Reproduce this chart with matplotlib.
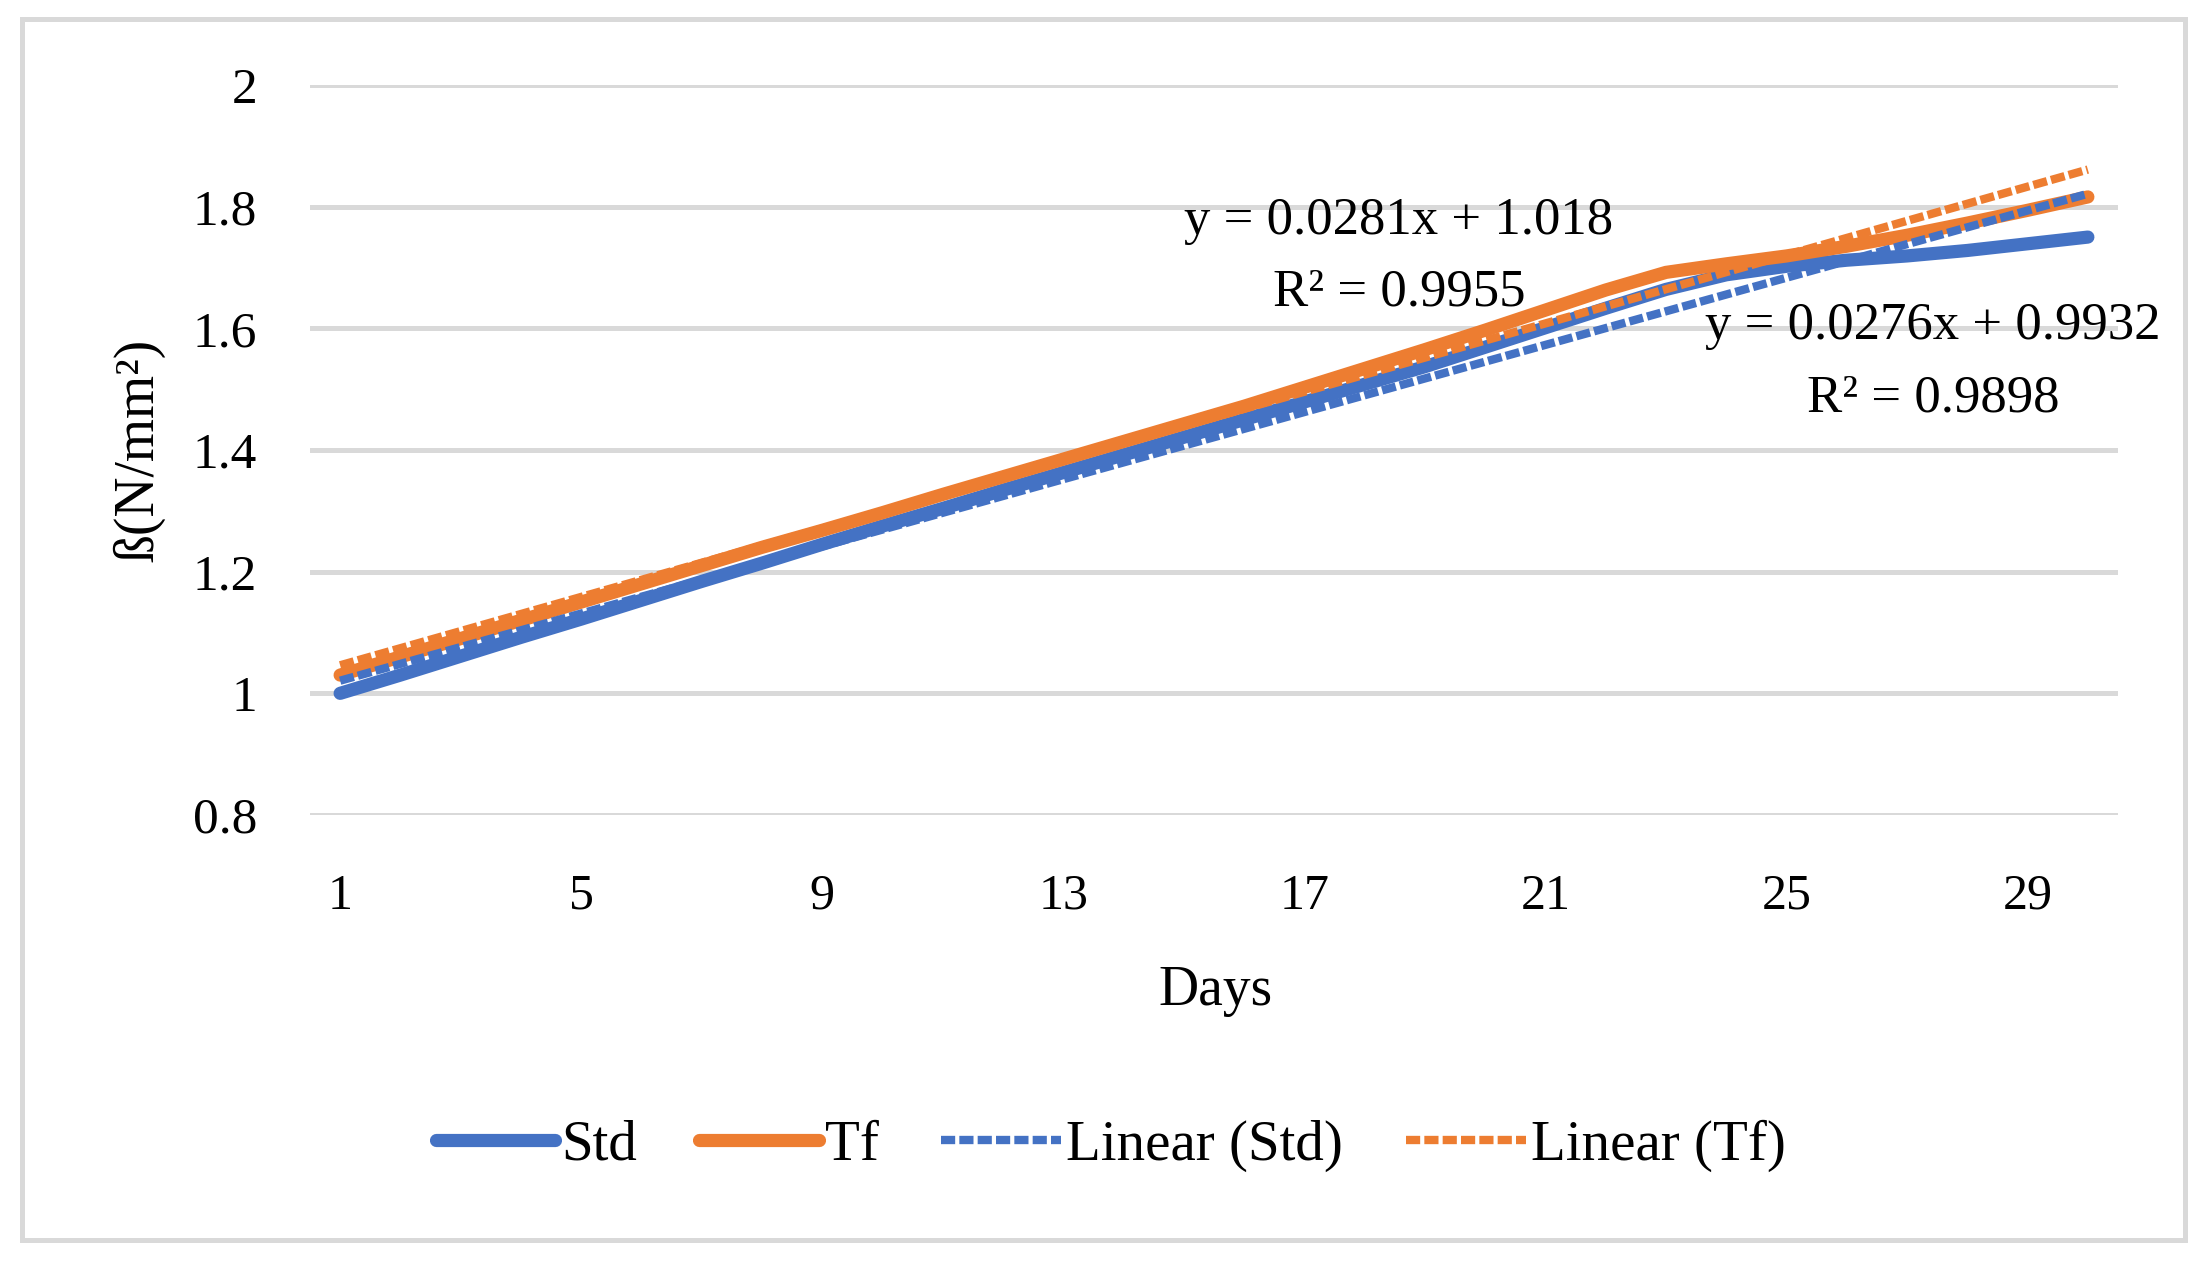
import numpy as np
import matplotlib
matplotlib.use("Agg")
import matplotlib.pyplot as plt
from matplotlib.patches import Rectangle

plt.rcParams['font.family'] = ['Liberation Serif', 'DejaVu Serif']

days = np.arange(1, 31)
std_vals = [1.000, 1.030, 1.061, 1.092, 1.122, 1.153, 1.184, 1.214, 1.245, 1.275,
            1.304, 1.334, 1.363, 1.392, 1.421, 1.450, 1.479, 1.508, 1.537, 1.569,
            1.601, 1.633, 1.664, 1.688, 1.702, 1.712, 1.719, 1.728, 1.739, 1.750]
tf_vals = [1.030, 1.060, 1.090, 1.120, 1.150, 1.180, 1.210, 1.240, 1.268, 1.297,
           1.327, 1.356, 1.385, 1.414, 1.443, 1.472, 1.503, 1.534, 1.565, 1.597,
           1.630, 1.663, 1.692, 1.706, 1.719, 1.735, 1.753, 1.773, 1.794, 1.816]

# trendline coefficients as printed on the chart
std_fit = (0.0276, 0.9932, 0.9898)
tf_fit = (0.0281, 1.018, 0.9955)

xticks = [1, 5, 9, 13, 17, 21, 25, 29]
yticks = [0.8, 1, 1.2, 1.4, 1.6, 1.8, 2]

blue = '#4472C4'
orange = '#ED7D31'
grid = '#D9D9D9'

fig = plt.figure(figsize=(22.04, 12.64), dpi=100)
ax = fig.add_axes([310 / 2204, 1 - 815 / 1264, 1808 / 2204, 730 / 1264])

ax.plot(days, std_vals, color=blue, lw=9.5, solid_capstyle='round',
        solid_joinstyle='round', label='Std', zorder=3)
ax.plot(days, tf_vals, color=orange, lw=9.5, solid_capstyle='round',
        solid_joinstyle='round', label='Tf', zorder=3)
ax.plot(days, std_fit[0] * days + std_fit[1], color=blue, lw=6,
        dashes=(1.7, 0.5), label='Linear (Std)', zorder=4)
ax.plot(days, tf_fit[0] * days + tf_fit[1], color=orange, lw=6,
        dashes=(1.7, 0.5), label='Linear (Tf)', zorder=4)

ax.set_xlim(0.5, 30.5)
ax.set_ylim(0.8, 2.0)
ax.set_xticks(xticks)
ax.set_xticklabels([str(t) for t in xticks])
ax.set_yticks(yticks)
ax.set_yticklabels(['0.8', '1', '1.2', '1.4', '1.6', '1.8', '2'])
ax.tick_params(axis='x', length=0, pad=42, labelsize=36)
ax.tick_params(axis='y', length=0, pad=38, labelsize=37)
ax.grid(axis='y', color=grid, lw=3.6, zorder=0)
ax.set_axisbelow(True)
for s in ax.spines.values():
    s.set_visible(False)

ax.set_xlabel('Days', fontsize=40)
ax.xaxis.set_label_coords(0.501, -0.205)
ax.set_ylabel('ß(N/mm²)', fontsize=40)
ax.yaxis.set_label_coords(-0.08, 0.5)

fig.text(1399 / 2204, 1 - 221 / 1264, 'y = %.4fx + %.3f' % (tf_fit[0], tf_fit[1]),
         fontsize=38, ha='center', va='center')
fig.text(1399 / 2204, 1 - 292 / 1264, 'R² = %.4f' % tf_fit[2],
         fontsize=38, ha='center', va='center')
fig.text(1933 / 2204, 1 - 326 / 1264, 'y = %.4fx + %.4f' % (std_fit[0], std_fit[1]),
         fontsize=38, ha='center', va='center')
fig.text(1933 / 2204, 1 - 398 / 1264, 'R² = %.4f' % std_fit[2],
         fontsize=38, ha='center', va='center')

fig.legend(loc='center', bbox_to_anchor=(0.504, 1 - 1146 / 1264), ncol=4,
           frameon=False, fontsize=41, handlelength=2.1, handletextpad=0.1,
           columnspacing=1.1)

fig.patches.append(Rectangle((22 / 2204, 1 - 1240 / 1264), 2163 / 2204, 1221 / 1264,
                             transform=fig.transFigure, fill=False,
                             edgecolor=grid, lw=3.6))

fig.savefig('out.png', dpi=100)
